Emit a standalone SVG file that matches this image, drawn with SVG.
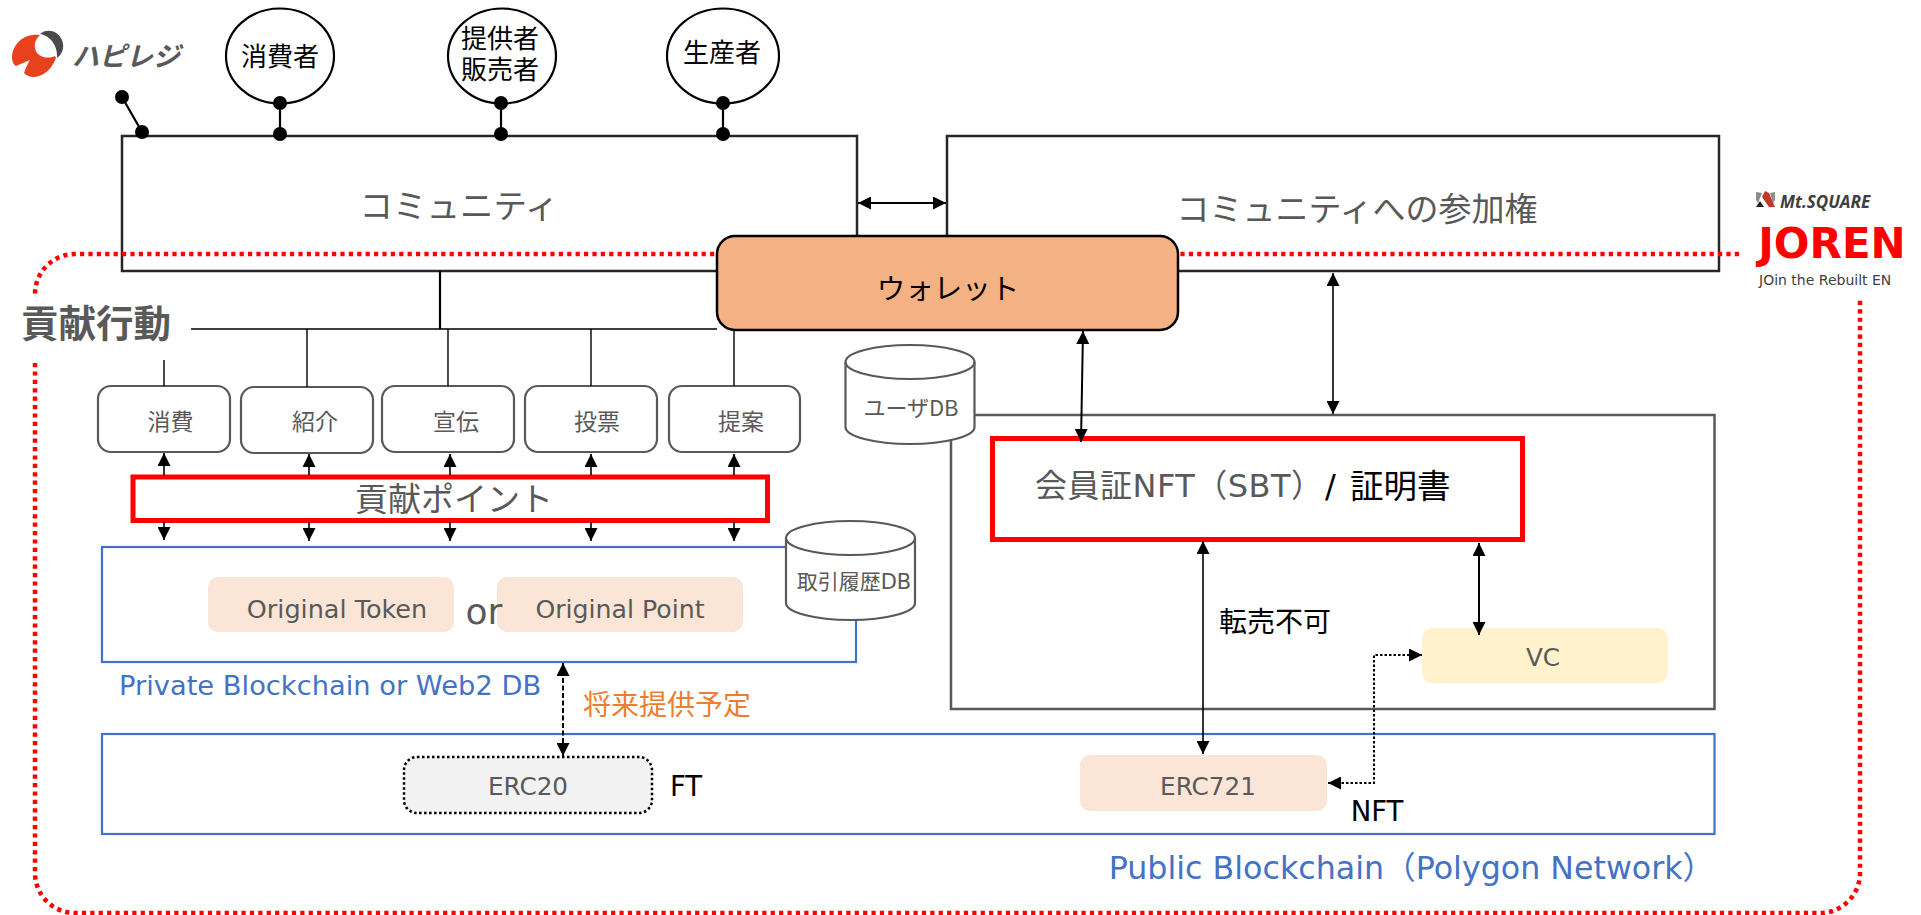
<svg xmlns="http://www.w3.org/2000/svg" width="1921" height="915" viewBox="0 0 1921 915">
<style>
text{font-family:"Noto Sans CJK JP","Noto Sans",sans-serif;fill:#595959;text-anchor:middle;dominant-baseline:central}
.d{font-family:"DejaVu Sans","Noto Sans CJK JP",sans-serif}
.k{fill:#000}.b{fill:#4472C4}.st{text-anchor:start}
.box{fill:#fff;stroke:#262626;stroke-width:2.5}
.act{fill:#fff;stroke:#595959;stroke-width:2.2}
.cyl{fill:#fff;stroke:#595959;stroke-width:2.2}
.peach{fill:#FBE5D6}
.red{fill:#fff;stroke:#f00;stroke-width:5}
.blue{fill:none;stroke:#4472C4;stroke-width:2.2}
.per{fill:#fff;stroke:#000;stroke-width:2.2}
.l{fill:none;stroke:#000;stroke-width:1.4}
.a{fill:none;stroke:#000;stroke-width:1.6;marker-start:url(#ah);marker-end:url(#ah)}
.s{fill:none;stroke:#000;stroke-width:1.6;marker-start:url(#ah)}
.e{fill:none;stroke:#000;stroke-width:1.6;marker-end:url(#ah)}
.dot{fill:none;stroke:#f00;stroke-width:4.5;stroke-dasharray:4.2 4.2}
</style>
<defs>
<marker id="ah" viewBox="0 0 13 13" refX="13" refY="6.5" markerWidth="13" markerHeight="13" markerUnits="userSpaceOnUse" orient="auto-start-reverse"><path d="M0 0L13 6.500L0 13z" fill="#000"/></marker>
</defs>

<g id="logo-left">
<path d="M40 35C24 33 12 44 12 58C12 62 14 65 16 66L30 60C27 65 25 70 24 73C30 80 48 79 56 58L55 56C46 60 36 56 35 48C34 42 37 38 40 35Z" fill="#E8411E"/>
<path d="M40 34C46 28 58 30 62 40C65 48 62 54 57 58C58 48 52 36 40 34Z" fill="#4a4a4a"/>
<text x="126" y="54" font-size="27" font-style="italic" font-weight="700">ハピレジ</text>
</g>

<g id="community"><rect class="box" x="122" y="136" width="735" height="135"/><text x="459" y="203" font-size="33.500">コミュニティ</text></g>
<g id="participation"><rect class="box" x="947" y="136" width="772" height="135"/><text x="1357" y="207" font-size="33">コミュニティへの参加権</text></g>

<g id="frame">
<path class="dot" d="M1739 254H75A40 40 0 0 0 35 294"/>
<path class="dot" d="M35 363V873A40 40 0 0 0 75 913H1820A40 40 0 0 0 1860 873V300"/>
</g>

<g id="person1"><ellipse class="per" cx="280" cy="56" rx="54" ry="47.500"/><text class="k" x="280" y="54" font-size="26">消費者</text><path d="M280 103V134" stroke="#000" stroke-width="2.2"/><circle cx="280" cy="103" r="7"/><circle cx="280" cy="134" r="7"/></g>
<g id="person2"><ellipse class="per" cx="502" cy="56" rx="54" ry="47.500"/><text class="k d" font-size="26"><tspan x="500" y="39">提供者</tspan><tspan x="500" y="70">販売者</tspan></text><path d="M501 103V134" stroke="#000" stroke-width="2.2"/><circle cx="501" cy="103" r="7"/><circle cx="501" cy="134" r="7"/></g>
<g id="person3"><ellipse class="per" cx="723" cy="56" rx="56" ry="47.500"/><text class="k" x="722" y="50" font-size="26">生産者</text><path d="M723 103V134" stroke="#000" stroke-width="2.2"/><circle cx="723" cy="103" r="7"/><circle cx="723" cy="134" r="7"/></g>
<g id="person4"><path d="M122 97L142 132" stroke="#000" stroke-width="2.2"/><circle cx="122" cy="97" r="7"/><circle cx="142" cy="132" r="7"/></g>

<g id="label-contrib"><text x="96" y="320" font-size="37.500" font-weight="700">貢献行動</text></g>
<g id="act1"><rect class="act" x="98" y="386" width="132" height="66" rx="13"/><text x="170.500" y="420" font-size="23">消費</text></g>
<g id="act2"><rect class="act" x="241" y="387" width="132" height="66" rx="13"/><text x="315" y="420" font-size="23">紹介</text></g>
<g id="act3"><rect class="act" x="382" y="386" width="132" height="66" rx="13"/><text x="456" y="420" font-size="23">宣伝</text></g>
<g id="act4"><rect class="act" x="525" y="386" width="132" height="66" rx="13"/><text x="597" y="420" font-size="23">投票</text></g>
<g id="act5"><rect class="act" x="669" y="386" width="131" height="66" rx="13"/><text x="741" y="420" font-size="23">提案</text></g>

<g id="points"><rect class="red" x="133" y="477" width="634.500" height="43.500"/><text x="454" y="497" font-size="33">貢献ポイント</text></g>

<g id="private"><rect class="blue" x="102" y="547" width="754" height="115"/>
<text class="b st d" x="119" y="685" font-size="27.300">Private Blockchain or Web2 DB</text></g>
<g id="token"><rect class="peach" x="208" y="577" width="246" height="55" rx="10"/><text class="d" x="337" y="609" font-size="25.500">Original Token</text></g>
<g id="point"><rect class="peach" x="497" y="577" width="246" height="55" rx="10"/><text class="d" x="620" y="609" font-size="25.200">Original Point</text></g>
<g id="or"><text class="d" x="484" y="611" font-size="36">or</text></g>
<g id="txdb"><path class="cyl" d="M786 538A64.500 17 0 0 1 915 538V603A64.500 17 0 0 1 786 603Z"/><path class="cyl" style="fill:none" d="M786 538A64.500 17 0 0 0 915 538"/><text class="d" x="854" y="582" font-size="21">取引履歴DB</text></g>

<g id="membership"><path fill="none" stroke="#595959" stroke-width="2.500" d="M951 440V709H1714.500V415H970"/></g>
<g id="userdb"><path class="cyl" d="M845.500 362A64.500 17 0 0 1 974.500 362V427A64.500 17 0 0 1 845.500 427Z"/><path class="cyl" style="fill:none" d="M845.500 362A64.500 17 0 0 0 974.500 362"/><text x="911" y="406" font-size="22">ユーザDB</text></g>

<g id="wallet"><rect x="717" y="236" width="461" height="94" rx="18" fill="#F4B183" stroke="#000" stroke-width="2.500"/><text class="k" x="948" y="286" font-size="28.500">ウォレット</text></g>

<g id="nft"><rect class="red" x="992.500" y="438.500" width="530" height="101"/>
<text class="st d" x="1035" y="486" font-size="32" textLength="288" lengthAdjust="spacing">会員証NFT（SBT）</text><text class="k st d" x="1325" y="486" font-size="32">/</text><text class="k st" x="1350" y="483" font-size="33.500">証明書</text></g>

<g id="resale"><text class="k" x="1275" y="620" font-size="28">転売不可</text></g>
<g id="vc"><rect x="1422" y="628" width="246" height="55" rx="10" fill="#FFF2CC"/><text class="d" x="1543" y="657" font-size="24.700">VC</text></g>
<g id="future"><text x="667" y="703" font-size="28" style="fill:#ED7D31">将来提供予定</text></g>

<g id="public"><rect class="blue" x="102" y="734" width="1612.500" height="100"/>
<text class="b d" x="1411.500" y="868" font-size="31.700">Public Blockchain（Polygon Network）</text></g>
<g id="erc20"><rect x="404" y="757" width="248" height="56" rx="13" fill="#F2F2F2" stroke="#000" stroke-width="2.500" stroke-dasharray="2.500 2.500"/><text class="d" x="528" y="786" font-size="24.700">ERC20</text></g>
<g id="ft"><text class="k d" x="686" y="786" font-size="27.500">FT</text></g>
<g id="erc721"><rect class="peach" x="1080" y="755" width="247" height="56" rx="10"/><text class="d" x="1208" y="786" font-size="24.700">ERC721</text></g>
<g id="nftl"><text class="k d" x="1377" y="811" font-size="27.500">NFT</text></g>

<g id="logo-right"><path d="M1756 192L1762 193L1758 203L1756 200Z" fill="#8c8c8c"/><path d="M1775 192L1770 193L1773 203L1775 200Z" fill="#8c8c8c"/><path d="M1756 207L1760 201L1764 207Z" fill="#202020"/><path d="M1765 191L1769 193L1775 207L1769 207L1762 197Z" fill="#C0392B"/>
<text class="st" x="1780" y="201" font-size="17" font-style="italic" font-weight="700" style="fill:#404040;font-family:'Noto Sans',sans-serif">Mt.SQUARE</text></g>
<g id="joren"><text class="d" x="1832" y="243" font-size="42" font-weight="700" style="fill:#f00">JOREN</text><text class="st d" x="1759" y="280" font-size="14" style="fill:#404040">JOin the Rebuilt EN</text></g>

<g id="connectors">
<path class="l" d="M191 329H717M164 360V386M307 329V387M448 329V386M591 329V386M734 330V386"/>
<path class="l" style="stroke-width:2.2" d="M440 271V329"/>
<path class="a" style="stroke-width:2" d="M858 203H946"/>
<path class="s" d="M164 453V475"/><path class="e" d="M164 522V540"/>
<path class="s" d="M309 454V475"/><path class="e" d="M309 522V541"/>
<path class="s" d="M450 454V475"/><path class="e" d="M450 522V541"/>
<path class="s" d="M591 454V475"/><path class="e" d="M591 522V541"/>
<path class="s" d="M734 454V475"/><path class="e" d="M734 522V541"/>
<path class="a" style="stroke-width:2" d="M1083 331L1081 442"/>
<path class="a" d="M1333 273V414"/>
<path class="a" d="M1203 541V754"/>
<path class="a" style="stroke-width:2" d="M1479 543V635"/>
<path class="a" style="stroke-width:2;stroke-dasharray:2.500 2" d="M1328 783H1374V655H1422"/>
<path class="a" style="stroke-width:2;stroke-dasharray:5 2.500" d="M563 663V756"/>
</g>
</svg>
